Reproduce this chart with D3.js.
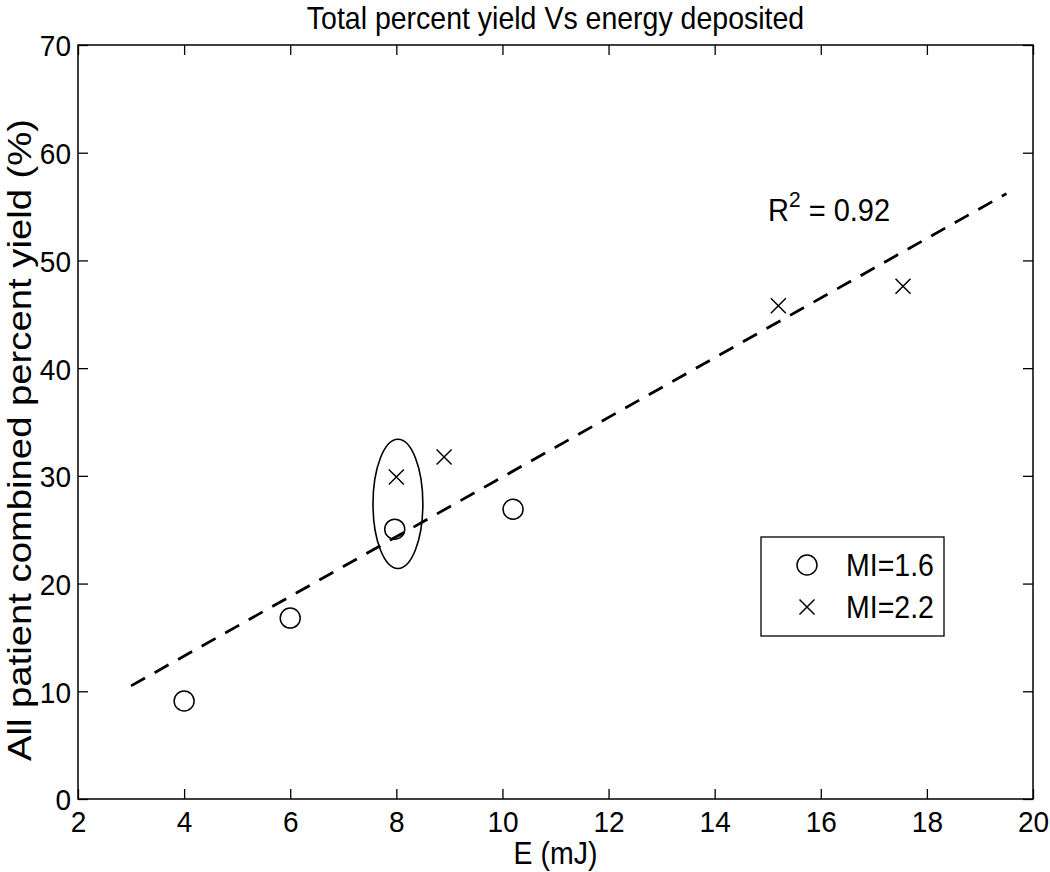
<!DOCTYPE html>
<html><head><meta charset="utf-8">
<script src="https://cdn.jsdelivr.net/npm/d3@7"></script>
<style>
body{margin:0;background:#fff;}
text{font-family:"Liberation Sans",Arial,sans-serif;fill:#000;}
</style></head>
<body>
<svg id="chart" width="1050" height="872"></svg>
<script>
// Data
const xTicks = [2,4,6,8,10,12,14,16,18,20];
const yTicks = [0,10,20,30,40,50,60,70];
const mi16_E = [4, 6, 7.97, 10.2];
const mi16_Y = [9.1, 16.8, 25.05, 26.9];
const mi22_E = [8.0, 8.9, 15.2, 17.55];
const mi22_Y = [29.9, 31.75, 45.8, 47.6];
const fitE = [3, 19.5];
const fitY = [10.5, 56.2];
const ellipseCenter = [8.03, 27.4];
const ellipseRadii = [0.47, 6.0];
const legendLabels = ["MI=1.6", "MI=2.2"];
const titleText = "Total percent yield Vs energy deposited";
const xLabel = "E (mJ)";
const yLabel = "All patient combined percent yield (%)";

const svg = d3.select("#chart");
const L = 78, R = 1033, T = 45, B = 799;
const x = d3.scaleLinear().domain([2,20]).range([L,R]);
const y = d3.scaleLinear().domain([0,70]).range([B,T]);
const FS = 28;
const SY = 1.08; // vertical stretch of horizontal text

function stretch(sel, cy){
  sel.attr("transform", `translate(0,${cy}) scale(1,${SY}) translate(0,${-cy})`);
}

// axes box
svg.append("rect").attr("x",L).attr("y",T).attr("width",R-L).attr("height",B-T)
  .attr("fill","none").attr("stroke","#000").attr("stroke-width",1.5);

const tl = 10;
const gx = svg.append("g").attr("transform",`translate(0,${B})`)
  .call(d3.axisBottom(x).tickValues(xTicks).tickSizeInner(-tl).tickSizeOuter(0).tickPadding(12).tickFormat(d3.format("d")));
const gxt = svg.append("g").attr("transform",`translate(0,${T})`)
  .call(d3.axisTop(x).tickValues(xTicks).tickSizeInner(-tl).tickSizeOuter(0).tickFormat(""));
const gy = svg.append("g").attr("transform",`translate(${L},0)`)
  .call(d3.axisLeft(y).tickValues(yTicks).tickSizeInner(-tl).tickSizeOuter(0).tickPadding(7).tickFormat(d3.format("d")));
const gyr = svg.append("g").attr("transform",`translate(${R},0)`)
  .call(d3.axisRight(y).tickValues(yTicks).tickSizeInner(-tl).tickSizeOuter(0).tickFormat(""));
[gx,gxt,gy,gyr].forEach(g=>{
  g.select(".domain").remove();
  g.selectAll("line").attr("stroke","#000").attr("stroke-width",1.3);
  g.selectAll("text").attr("font-size",FS).attr("font-family","Liberation Sans, Arial, sans-serif").attr("fill","#000");
});
gx.selectAll("text").attr("dy","0.71em").attr("y",12);
stretch(gx.selectAll("text"), 12);
gy.selectAll("text").attr("dy","0.36em");
stretch(gy.selectAll("text"), 0);

// fit line
svg.append("line")
  .attr("x1",x(fitE[0])).attr("y1",y(fitY[0]))
  .attr("x2",x(fitE[1])).attr("y2",y(fitY[1]))
  .attr("stroke","#000").attr("stroke-width",2.8).attr("stroke-dasharray","16,11");

// ellipse
svg.append("ellipse")
  .attr("cx",x(ellipseCenter[0])).attr("cy",y(ellipseCenter[1]))
  .attr("rx",x(ellipseCenter[0]+ellipseRadii[0])-x(ellipseCenter[0]))
  .attr("ry",y(ellipseCenter[1])-y(ellipseCenter[1]+ellipseRadii[1]))
  .attr("fill","none").attr("stroke","#000").attr("stroke-width",1.6);

// markers
const cr = 10, cs = 7.5;
svg.append("g").selectAll("circle").data(d3.range(mi16_E.length)).join("circle")
  .attr("cx",i=>x(mi16_E[i])).attr("cy",i=>y(mi16_Y[i])).attr("r",cr)
  .attr("fill","none").attr("stroke","#000").attr("stroke-width",1.5);
function cross(g,cx,cy){
  g.append("path").attr("d",`M${cx-cs},${cy-cs}L${cx+cs},${cy+cs}M${cx-cs},${cy+cs}L${cx+cs},${cy-cs}`)
   .attr("stroke","#000").attr("stroke-width",1.5).attr("fill","none");
}
const gc = svg.append("g");
mi22_E.forEach((e,i)=>cross(gc,x(e),y(mi22_Y[i])));

// R^2 annotation
const rt = svg.append("text").attr("x",768).attr("y",221).attr("font-size",29);
rt.append("tspan").text("R");
rt.append("tspan").attr("font-size",21).attr("dy",-13).text("2");
rt.append("tspan").attr("dy",13).text(" = 0.92");
stretch(rt, 221);

// legend
const lg = svg.append("g");
lg.append("rect").attr("x",761).attr("y",537).attr("width",183).attr("height",99)
  .attr("fill","#fff").attr("stroke","#000").attr("stroke-width",1.3);
lg.append("circle").attr("cx",807).attr("cy",565).attr("r",cr).attr("fill","none").attr("stroke","#000").attr("stroke-width",1.5);
cross(lg,807,607);
const lt1 = lg.append("text").attr("x",846).attr("y",565).attr("dy","0.36em").attr("font-size",28.5).text(legendLabels[0]);
const lt2 = lg.append("text").attr("x",846).attr("y",607).attr("dy","0.36em").attr("font-size",28.5).text(legendLabels[1]);
stretch(lt1,565); stretch(lt2,607);

// title and labels
const tt = svg.append("text").attr("x",(L+R)/2).attr("y",29).attr("text-anchor","middle").attr("font-size",28.5).text(titleText);
stretch(tt, 29);
const xl = svg.append("text").attr("x",(L+R)/2).attr("y",864).attr("text-anchor","middle").attr("font-size",28.5).text(xLabel);
stretch(xl, 864);
svg.append("text").attr("transform",`translate(31,440) rotate(-90) scale(1.16,1)`).attr("text-anchor","middle").attr("font-size",33).text(yLabel);
</script>
</body></html>
